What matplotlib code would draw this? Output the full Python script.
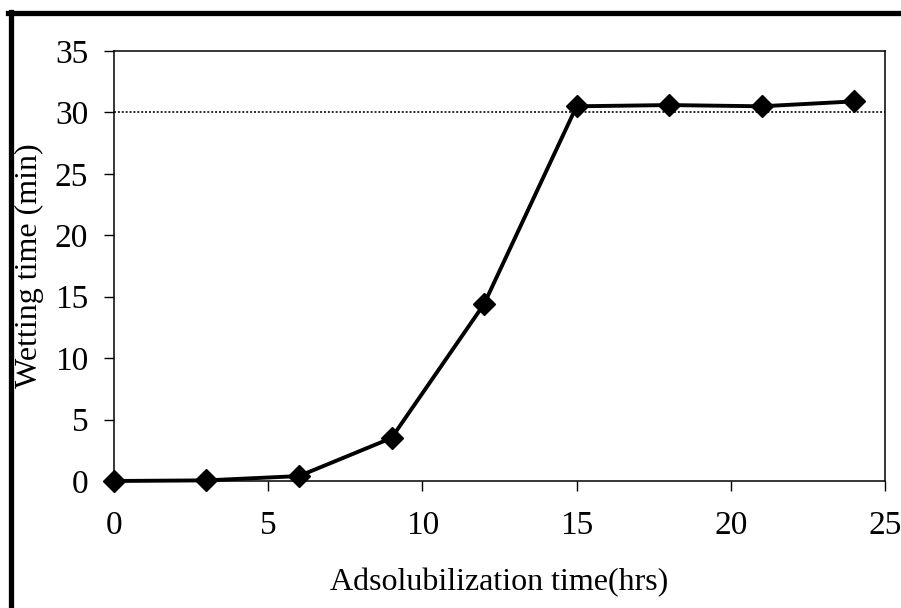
import matplotlib
matplotlib.use('Agg')
import matplotlib.pyplot as plt
from matplotlib.lines import Line2D

# adsolubilization time (hrs) vs wetting time (min)
hours = [0, 3, 6, 9, 12, 15, 18, 21, 24]
wetting = [0.0, 0.05, 0.4, 3.5, 14.4, 30.5, 30.6, 30.5, 30.9]
limit = 30

x_ticks = [0, 5, 10, 15, 20, 25]
y_ticks = [0, 5, 10, 15, 20, 25, 30, 35]

plt.rcParams['font.family'] = 'Liberation Serif'

fig = plt.figure(figsize=(9.01, 6.08), dpi=100)
ax = fig.add_axes([0.1265, 0.2089, 0.8557, 0.7072])

ax.axhline(limit, color='#2a2a2a', lw=1.4, ls=(0, (1, 1)), zorder=1)
ax.plot(hours, wetting, color='black', lw=2.8, marker='D', ms=11, zorder=3, clip_on=False)

ax.set_xlim(0, 25)
ax.set_ylim(0, 35)
ax.set_xticks(x_ticks)
ax.set_yticks(y_ticks)
ax.tick_params(direction='out', length=7, width=1.0, labelsize=24)
ax.tick_params(axis='x', pad=14)
ax.tick_params(axis='y', pad=11.5)
for s in ax.spines.values():
	s.set_linewidth(1.1)

ax.set_xlabel('Adsolubilization time(hrs)', fontsize=23, labelpad=20)
ax.set_ylabel('Wetting time (min)', fontsize=23)
ax.yaxis.set_label_coords(-0.091, 0.5)

# frame round the figure (top and left only)
fig.add_artist(Line2D([0.009, 1.0], [0.9786, 0.9786], color='black', lw=3.8))
fig.add_artist(Line2D([0.0125, 0.0125], [0.0, 0.981], color='black', lw=3.8))

fig.savefig('out.png', dpi=100)
